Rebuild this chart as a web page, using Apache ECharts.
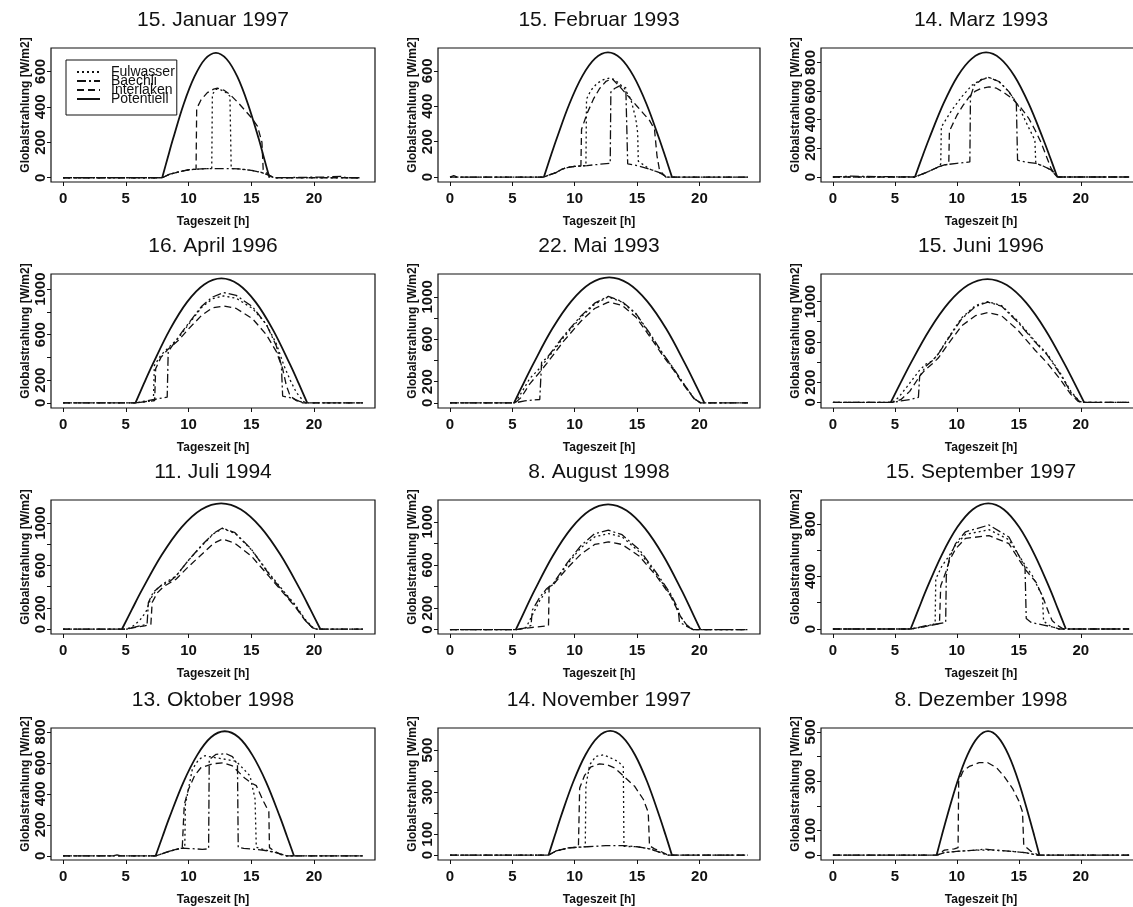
<!DOCTYPE html>
<html>
<head>
<meta charset="utf-8">
<script src="https://cdn.jsdelivr.net/npm/echarts@6/dist/echarts.min.js"></script>
<style>
html, body { margin: 0; background: #fff; overflow: hidden; }
#chart { width: 1150px; height: 907px; }
</style>
</head>
<body>
<div id="chart"></div>
<script>
// Titel der 12 Tage
const titles = ['15. Januar 1997', '15. Februar 1993', '14. Marz 1993', '16. April 1996',
  '22. Mai 1993', '15. Juni 1996', '11. Juli 1994', '8. August 1998',
  '15. September 1997', '13. Oktober 1998', '14. November 1997', '8. Dezember 1998'];
const seriesNames = ['Fulwasser', 'Baechli', 'Interlaken', 'Potentiell'];

// Achsen
const xTicks = [0, 5, 10, 15, 20];
const yMin = [-24, -28, -35, -45, -48, -55, -47, -40, -38, -27, -23, -20];
const yMax = [732, 729, 901, 1133, 1215, 1273, 1219, 1202, 982, 825, 605, 516];
const yLabels = [[0, 200, 400, 600], [0, 200, 400, 600], [0, 200, 400, 600, 800],
  [0, 200, 600, 1000], [0, 200, 600, 1000], [0, 200, 600, 1000], [0, 200, 600, 1000], [0, 200, 600, 1000],
  [0, 400, 800], [0, 200, 400, 600, 800], [0, 100, 300, 500], [0, 100, 300, 500]];
const yTicks = [[0, 200, 400, 600], [0, 200, 400, 600], [0, 200, 400, 600, 800],
  [0, 200, 400, 600, 800, 1000], [0, 200, 400, 600, 800, 1000], [0, 200, 400, 600, 800, 1000],
  [0, 200, 400, 600, 800, 1000], [0, 200, 400, 600, 800, 1000],
  [0, 200, 400, 600, 800], [0, 200, 400, 600, 800], [0, 100, 200, 300, 400, 500], [0, 100, 200, 300, 400, 500]];

// Daten [Stunde, W/m2]
const janFul = [[0,0],[7.9,0],[8.5,20],[9.3,35],[10,45],[11,50],[11.85,52],[11.9,470],[12.2,500],[12.6,495],[13.0,480],[13.3,460],[13.4,52],[14,50],[15,42],[15.8,30],[16.4,15],[16.8,0],[23.7,0]];
const janBae = [[0,0],[5,0],[7.9,0],[8.5,20],[9.3,35],[10,45],[11,50],[12,52],[13,52],[14,50],[15,42],[15.8,30],[16.4,15],[16.8,0],[21,4],[22.2,8],[22.6,0],[23.7,0]];
const janInt = [[0,0],[7.9,0],[8.5,20],[9.3,35],[10,45],[10.6,48],[10.65,390],[11,440],[11.5,480],[12,500],[12.3,505],[12.8,495],[13.3,470],[14,420],[14.5,380],[15,340],[15.5,290],[15.85,200],[15.95,45],[16.4,15],[16.8,0],[23.7,0]];
const janPot = [[7.9,0],[8.33,110],[8.76,218],[9.61,415],[10.47,570],[11.32,670],[12.18,705],[13.03,670],[13.89,570],[14.74,415],[15.6,218],[16.02,110],[16.45,0]];

const febFul = [[0,0],[7.5,0],[8.5,25],[9,45],[9.5,55],[10,60],[10.9,65],[10.95,440],[11.3,490],[11.8,530],[12.3,550],[12.8,560],[13.2,550],[13.7,520],[14.0,500],[14.5,440],[14.9,330],[15.05,250],[15.1,90],[16,45],[16.8,25],[17.4,0],[23.9,0]];
const febBae = [[0,0],[0.3,8],[0.6,0],[7.5,0],[8.5,25],[9,45],[9.5,55],[10,60],[11,65],[12,72],[12.85,78],[12.9,480],[13.2,500],[13.6,515],[14.1,505],[14.25,75],[15,65],[16,45],[16.8,25],[17.4,0],[23.9,0]];
const febInt = [[0,0],[7.5,0],[8.5,25],[9,45],[9.5,55],[10,60],[10.5,62],[10.55,270],[11.0,360],[11.5,440],[12.0,500],[12.5,540],[13.0,555],[13.5,520],[14.0,480],[14.5,440],[15.0,400],[15.5,360],[16.0,320],[16.4,270],[16.6,120],[16.8,40],[17.3,0],[23.9,0]];
const febPot = [[7.53,0],[8.04,110],[8.56,218],[9.58,414],[10.61,570],[11.64,670],[12.67,704],[13.69,670],[14.72,570],[15.75,414],[16.77,218],[17.29,110],[17.8,0]];

const marFul = [[0,0],[6.6,0],[7.5,30],[8.5,70],[8.7,90],[8.75,350],[9.6,468],[10.4,561],[11.25,643],[12.05,685],[12.6,695],[13.4,667],[14.2,596],[15.0,491],[15.7,362],[16.3,257],[16.37,95],[17,75],[17.6,50],[18.1,0],[23.9,0]];
const marBae = [[0,0],[1.5,6],[2.5,4],[6.6,0],[7.5,30],[8.5,70],[9,85],[10,95],[11.05,105],[11.1,560],[11.4,640],[12,680],[12.6,695],[13.4,667],[14.2,596],[14.8,520],[14.9,117],[15.5,105],[16.4,95],[17,75],[17.6,50],[18.1,0],[23.9,0]];
const marInt = [[0,0],[6.6,0],[7.5,30],[8.5,70],[9,85],[9.35,88],[9.4,320],[10.0,430],[10.5,500],[11.0,560],[11.5,600],[12.0,620],[12.6,630],[13.2,620],[13.8,590],[14.5,545],[15.2,480],[15.8,410],[16.3,330],[16.8,240],[17.2,150],[17.6,60],[18.0,10],[18.2,0],[23.9,0]];
const marPot = [[6.62,0],[7.19,136],[7.77,269],[8.92,512],[10.06,704],[11.21,827],[12.36,870],[13.51,827],[14.66,704],[15.8,512],[16.95,269],[17.53,136],[18.1,0]];

const aprFul = [[0,0],[5.8,0],[6.5,10],[7.2,20],[7.28,330],[7.8,420],[8.35,480],[9.2,570],[10,690],[11.05,840],[11.9,915],[12.8,940],[13.8,920],[15.1,830],[16.2,690],[17,520],[17.6,330],[18.1,200],[18.6,90],[19.2,10],[19.4,0],[23.9,0]];
const aprBae = [[0,0],[5.8,0],[6.5,15],[7.5,35],[8.3,50],[8.38,450],[9.2,580],[10,700],[11.05,850],[11.9,930],[12.8,970],[13.8,945],[15.1,845],[16.2,690],[17,500],[17.4,330],[17.5,60],[18.3,40],[18.8,15],[19.2,0],[23.9,0]];
const aprInt = [[0,0],[5.8,0],[6.5,10],[7.3,20],[7.38,300],[7.8,400],[8.35,470],[9.2,550],[10,650],[11.05,770],[11.9,835],[12.8,852],[13.8,830],[15.1,740],[16.2,600],[17,450],[17.5,300],[17.8,150],[18.1,60],[18.6,20],[19.1,0],[23.9,0]];
const aprPot = [[5.77,0],[6.45,171],[7.14,338],[8.51,644],[9.88,886],[11.25,1041],[12.62,1095],[13.99,1041],[15.35,886],[16.72,644],[18.09,338],[18.78,171],[19.46,0]];

const mayFul = [[0,0],[5.2,0],[5.6,70],[6.4,230],[7.2,327],[7.75,407],[9.1,615],[10.5,808],[11.6,930],[12.7,1000],[13.8,950],[14.9,840],[16,650],[17.1,455],[17.9,327],[18.8,167],[19.6,38],[20.1,0],[23.9,0]];
const mayBae = [[0,0],[5.2,0],[6,20],[7.2,32],[7.35,390],[7.75,420],[9.1,630],[10.5,820],[11.6,940],[12.7,1005],[13.8,955],[14.9,845],[16,660],[17.1,460],[17.9,330],[18.8,170],[19.6,40],[20.1,0],[23.9,0]];
const mayInt = [[0,0],[5.2,0],[5.7,50],[6.4,180],[7.2,290],[7.75,370],[9.1,580],[10.5,770],[11.6,890],[12.7,950],[13.8,920],[14.9,810],[16,630],[17.1,440],[17.9,315],[18.8,160],[19.6,35],[20.1,0],[23.9,0]];
const mayPot = [[5.14,0],[5.9,185],[6.67,366],[8.19,696],[9.72,957],[11.24,1125],[12.77,1183],[14.3,1125],[15.82,957],[17.35,696],[18.87,366],[19.64,185],[20.4,0]];

const junFul = [[0,0],[4.8,0],[5.3,50],[6,160],[6.5,240],[7,320],[7.5,380],[8,410],[8.5,480],[9.3,640],[10.4,840],[11.5,960],[12.5,1000],[13.6,960],[14.9,810],[16.3,610],[17.3,480],[18.4,280],[19.2,110],[19.9,10],[20.2,0],[23.9,0]];
const junBae = [[0,0],[4.8,0],[5.5,15],[6.3,30],[6.9,50],[7.0,260],[7.5,360],[8,410],[8.5,480],[9.3,630],[10.4,830],[11.5,950],[12.5,995],[13.6,955],[14.9,800],[16.3,600],[17.3,470],[18.4,270],[19.2,100],[19.9,10],[20.2,0],[23.9,0]];
const junInt = [[0,0],[4.8,0],[5.5,30],[6.2,110],[7,260],[7.5,330],[8,380],[8.5,440],[9.3,580],[10.4,760],[11.5,860],[12.5,890],[13.6,860],[14.9,720],[16.3,520],[17.3,390],[18.4,220],[19.2,80],[19.8,10],[20.1,0],[23.9,0]];
const junPot = [[4.67,0],[5.45,191],[6.23,378],[7.79,719],[9.35,989],[10.91,1163],[12.47,1223],[14.03,1163],[15.59,989],[17.15,719],[18.71,378],[19.49,191],[20.27,0]];

const julFul = [[0,0],[5.1,0],[5.6,30],[6.1,80],[6.6,160],[7,290],[7.5,380],[8,430],[9,500],[10,650],[11,780],[12,900],[12.7,950],[13.7,905],[15,750],[16.4,530],[17.7,340],[18.5,230],[19.3,90],[19.9,15],[20.2,0],[23.9,0]];
const julBae = [[0,0],[5.1,0],[5.8,20],[6.5,40],[6.7,50],[6.8,250],[7.2,350],[7.7,400],[8.5,450],[9,500],[10,650],[11,785],[12,905],[12.7,955],[13.7,910],[15,755],[16.4,520],[17.7,330],[18.5,220],[19.3,80],[19.9,10],[20.2,0],[23.9,0]];
const julInt = [[0,0],[5.1,0],[5.5,10],[6.5,30],[7.0,45],[7.1,250],[7.5,340],[8,400],[9,470],[10,590],[11,700],[12,810],[12.7,850],[13.7,810],[15,690],[16.4,500],[17.7,320],[18.5,210],[19.3,80],[19.9,10],[20.2,0],[23.9,0]];
const julPot = [[4.7,0],[5.49,185],[6.28,367],[7.86,699],[9.44,961],[11.02,1130],[12.6,1188],[14.18,1130],[15.76,961],[17.34,699],[18.92,367],[19.71,185],[20.5,0]];

const augFul = [[0,0],[5.3,0],[6.1,20],[6.65,146],[7.2,270],[7.75,363],[8.3,425],[9.4,605],[10.5,760],[11.6,860],[12.7,891],[13.8,860],[15.2,720],[16.6,505],[17.7,320],[18.5,120],[19.0,40],[19.5,0],[23.9,0]];
const augBae = [[0,0],[5.3,0],[6.2,20],[6.5,40],[6.6,180],[7.2,300],[7.75,380],[8.3,430],[9.4,620],[10.5,780],[11.6,890],[12.7,922],[13.8,880],[15.2,740],[16.6,520],[17.7,330],[18.3,190],[18.4,70],[19,30],[19.5,0],[23.9,0]];
const augInt = [[0,0],[5.3,0],[6.5,20],[7.9,37],[7.95,394],[8.3,420],[9.4,570],[10.5,700],[11.6,790],[12.7,814],[13.8,790],[15.2,680],[16.6,490],[17.7,310],[18.5,120],[19.0,40],[19.5,0],[23.9,0]];
const augPot = [[5.28,0],[6.02,181],[6.76,359],[8.24,683],[9.72,939],[11.2,1104],[12.68,1161],[14.16,1104],[15.64,939],[17.12,683],[18.6,359],[19.34,181],[20.08,0]];

const sepFul = [[0,0],[6.3,0],[7.5,20],[8.25,40],[8.3,380],[8.8,480],[9.4,560],[9.9,640],[10.7,720],[12.6,756],[14.2,680],[15,560],[15.55,480],[16.1,406],[16.6,305],[16.9,254],[17.0,60],[17.5,25],[18.2,0],[23.9,0]];
const sepBae = [[0,0],[6.3,0],[7.5,25],[8.5,40],[9.1,50],[9.15,406],[9.4,540],[9.9,650],[10.7,740],[12.6,792],[14.2,700],[15,560],[15.5,470],[15.6,80],[16,50],[17,30],[17.5,20],[18.3,0],[23.9,0]];
const sepInt = [[0,0],[6.3,0],[7.5,20],[8.6,40],[8.7,330],[9.1,430],[9.4,520],[9.9,610],[10.7,690],[12.6,711],[14.2,650],[15,530],[15.55,450],[16.4,355],[17,228],[17.4,127],[17.7,63],[18.25,20],[18.6,0],[23.9,0]];
const sepPot = [[6.27,0],[6.9,149],[7.52,296],[8.78,563],[10.03,774],[11.28,910],[12.54,957],[13.79,910],[15.04,774],[16.29,563],[17.55,296],[18.17,149],[18.8,0]];

const octFul = [[0,0],[7.4,0],[8.5,30],[9.5,50],[9.7,52],[9.75,330],[10.3,558],[10.8,620],[11.3,646],[12,635],[12.8,625],[13.8,610],[14.9,516],[15.3,368],[15.4,55],[16,40],[17,20],[17.8,0],[23.9,0]];
const octBae = [[0,0],[4,0],[4.3,6],[4.6,0],[7.4,0],[8.5,30],[9.5,50],[11.1,42],[11.6,45],[11.65,621],[12.2,655],[13,659],[13.5,640],[13.9,590],[13.96,55],[14.4,48],[16,36],[17,20],[17.8,0],[23.9,0]];
const octInt = [[0,0],[7.4,0],[8.5,30],[9.5,52],[9.6,55],[9.66,330],[10,430],[10.5,520],[11,570],[12,595],[12.8,600],[13.5,580],[14,540],[14.5,500],[15,470],[15.4,453],[16,347],[16.4,284],[16.45,53],[16.8,32],[17.3,10],[17.8,0],[23.9,0]];
const octPot = [[7.38,0],[7.93,125],[8.48,248],[9.58,473],[10.69,650],[11.79,765],[12.89,804],[13.99,765],[15.09,650],[16.2,473],[17.3,248],[17.85,125],[18.4,0]];

const novFul = [[0,0],[7.9,0],[8.5,20],[9.5,35],[10.85,40],[10.9,330],[11.2,430],[11.7,470],[12.3,477],[12.8,465],[13.5,445],[13.9,420],[13.95,42],[15,40],[16,30],[17,10],[17.5,0],[23.9,0]];
const novBae = [[0,0],[7.9,0],[8.5,20],[9.5,35],[11,40],[12.5,45],[14,45],[15,40],[16,30],[17,10],[17.5,0],[23.9,0]];
const novInt = [[0,0],[7.9,0],[8.5,20],[9.5,35],[10.3,38],[10.4,320],[10.8,380],[11.3,420],[12,434],[12.6,430],[13.2,415],[13.95,375],[14.8,328],[15.5,266],[15.9,203],[16.0,45],[16.4,30],[17,15],[17.5,0],[23.9,0]];
const novPot = [[7.9,0],[8.4,92],[8.89,183],[9.88,348],[10.87,478],[11.86,562],[12.85,591],[13.84,562],[14.83,478],[15.82,348],[16.81,183],[17.31,92],[17.8,0]];

const decFul = [[0,0],[8.4,0],[9,10],[10,15],[11.5,20],[13,20],[14.5,15],[15.5,10],[16.5,0],[23.9,0]];
const decBae = [[0,0],[8.4,0],[9,10],[10,15],[11.5,20],[12.3,24],[13,20],[14.5,15],[15.5,10],[16.5,0],[23.9,0]];
const decInt = [[0,0],[8.4,0],[9,20],[9.8,25],[10.1,30],[10.15,300],[10.5,340],[11,360],[11.8,375],[12.5,375],[13.2,355],[13.8,320],[14.5,270],[15,220],[15.3,175],[15.4,40],[16,15],[16.6,0],[23.9,0]];
const decPot = [[8.37,0],[8.78,78],[9.2,155],[10.03,296],[10.86,407],[11.69,478],[12.52,503],[13.34,478],[14.17,407],[15.0,296],[15.83,155],[16.25,78],[16.66,0]];

const panels = [
  [janFul, janBae, janInt, janPot], [febFul, febBae, febInt, febPot], [marFul, marBae, marInt, marPot],
  [aprFul, aprBae, aprInt, aprPot], [mayFul, mayBae, mayInt, mayPot], [junFul, junBae, junInt, junPot],
  [julFul, julBae, julInt, julPot], [augFul, augBae, augInt, augPot], [sepFul, sepBae, sepInt, sepPot],
  [octFul, octBae, octInt, octPot], [novFul, novBae, novInt, novPot], [decFul, decBae, decInt, decPot]
];

// Layout
const colLeft = [51, 438, 821];
const colWidth = [324, 322, 320];
const rowTop = [48, 274, 500, 728];
const rowH = 134;
const font = 'Liberation Sans, Arial, Helvetica, sans-serif';
const ink = '#111';
const dashes = [[2, 3], [9, 3, 2, 3], [7, 4], 'solid'];
const widths = [1.3, 1.3, 1.3, 1.8];

const grid = [], xAxis = [], yAxis = [], series = [], title = [];
panels.forEach(function (p, i) {
  const c = i % 3, r = Math.floor(i / 3);
  grid.push({
    left: colLeft[c], top: rowTop[r], width: colWidth[c], height: rowH,
    show: true, borderColor: ink, borderWidth: 1.2, backgroundColor: 'rgba(0,0,0,0)'
  });
  title.push({
    text: titles[i], left: colLeft[c] + colWidth[c] / 2, top: rowTop[r] - 38,
    textAlign: 'center', padding: 0,
    textStyle: { fontSize: 21, fontWeight: 'normal', color: ink, fontFamily: font }
  });
  xAxis.push({
    gridIndex: i, type: 'value', min: -0.96, max: 24.86,
    name: 'Tageszeit [h]', nameLocation: 'middle', nameGap: 34,
    nameTextStyle: { fontSize: 12, fontWeight: 'bold', color: ink, fontFamily: font },
    axisLine: { show: false, onZero: false },
    axisTick: { show: true, customValues: xTicks, length: 4, lineStyle: { color: ink } },
    axisLabel: { customValues: xTicks, margin: 9, fontSize: 15, fontWeight: 'bold', color: ink, fontFamily: font },
    splitLine: { show: false }
  });
  yAxis.push({
    gridIndex: i, type: 'value', min: yMin[i], max: yMax[i],
    name: 'Globalstrahlung [W/m2]', nameLocation: 'middle', nameGap: 18, nameRotate: 90,
    nameTextStyle: { fontSize: 12, fontWeight: 'bold', color: ink, fontFamily: font, padding: [0, 0, 0, 20] },
    axisLine: { show: false, onZero: false },
    axisTick: { show: true, customValues: yTicks[i], length: 4, lineStyle: { color: ink } },
    axisLabel: {
      customValues: yLabels[i], rotate: 90, margin: 3, fontSize: 15, fontWeight: 'bold', color: ink, fontFamily: font,
      formatter: function (v) { return String(v); }
    },
    splitLine: { show: false }
  });
  p.forEach(function (d, k) {
    series.push({
      type: 'line', name: seriesNames[k], xAxisIndex: i, yAxisIndex: i, data: d,
      symbol: 'none', silent: true, smooth: k === 3 ? 0.35 : false,
      lineStyle: { color: ink, width: widths[k], type: dashes[k] }
    });
  });
});

const chart = echarts.init(document.getElementById('chart'));
chart.setOption({
  backgroundColor: '#fff',
  animation: false,
  title: title,
  legend: {
    left: 66, top: 60, orient: 'vertical', data: seriesNames, selectedMode: false,
    itemWidth: 23, itemHeight: 9, itemGap: -5, padding: [5, 2, 9, 10],
    borderColor: ink, borderWidth: 1, backgroundColor: '#fff',
    itemStyle: { opacity: 0 },
    textStyle: { fontSize: 14, lineHeight: 9, color: ink, fontFamily: font, padding: [0, 0, 0, 6] }
  },
  grid: grid,
  xAxis: xAxis,
  yAxis: yAxis,
  series: series
});
</script>
</body>
</html>
